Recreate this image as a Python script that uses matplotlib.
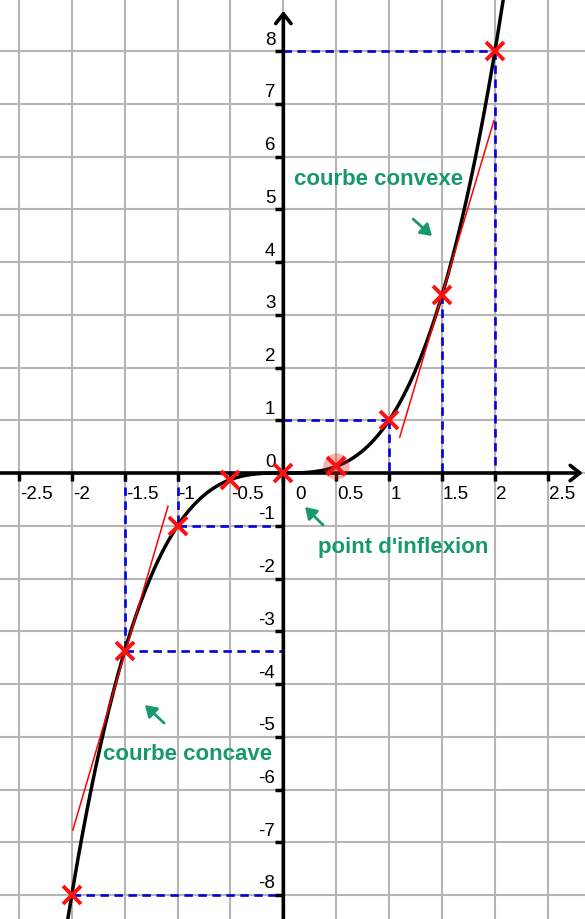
import numpy as np
import matplotlib
matplotlib.use('Agg')
import matplotlib.pyplot as plt

plt.rcParams['font.family'] = ['Liberation Sans', 'DejaVu Sans']

# Data
grid_x = [-2.5, -2, -1.5, -1, -0.5, 0, 0.5, 1, 1.5, 2, 2.5]
grid_y = [-8, -7, -6, -5, -4, -3, -2, -1, 0, 1, 2, 3, 4, 5, 6, 7, 8]
x_labels = ['-2.5', '-2', '-1.5', '-1', '-0.5', '0', '0.5', '1', '1.5', '2', '2.5']
y_labels = [str(v) for v in grid_y]

# marked points on y = x^3
pts_x = [-2, -1.5, -1, -0.5, 0, 0.5, 1, 1.5, 2]
pts_y = [-8, -3.375, -1, -0.125, 0, 0.125, 1, 3.375, 8]
infl_x = [0.5]
infl_y = [0.125]

# tangents at x = 1.5 and x = -1.5
tan_right_x = [1.10, 1.99]
tan_right_y = [0.68, 6.68]
tan_left_x = [-1.99, -1.09]
tan_left_y = [-6.77, -0.63]

# dashed projection segments (x0, x1, y0, y1)
dash_x0 = [0, 2, 0, 1, 1.5, -1.5, -1.5, -1, -1, -2]
dash_x1 = [2, 2, 1, 1, 1.5, -1.5, 0, -1, 0, 0]
dash_y0 = [8, 8, 1, 1, 3.375, 0, -3.375, 0, -1, -8]
dash_y1 = [8, 0, 1, 0, 0, -3.375, -3.375, -1, -1, -8]

# annotations
notes = ["courbe convexe", "point d'inflexion", "courbe concave"]
notes_x = [0.904, 1.136, -0.91]
notes_y = [5.574, -1.384, -5.32]
arrow_tail_x = [1.226, 0.375, -1.128]
arrow_tail_y = [4.815, -0.986, -4.739]
arrow_head_x = [1.405, 0.205, -1.308]
arrow_head_y = [4.493, -0.644, -4.398]

x_min, x_max = -2.678, 2.851
y_min, y_max = -8.455, 8.986

green = '#17996b'

fig = plt.figure(figsize=(5.85, 9.2), dpi=100)
ax = fig.add_axes([0, 0, 1, 1])
ax.set_xlim(x_min, x_max)
ax.set_ylim(y_min, y_max)
ax.axis('off')

# grid
for gx in grid_x:
    ax.axvline(gx, color='#b5b5b5', lw=1.5, zorder=1)
for gy in grid_y:
    ax.axhline(gy, color='#b5b5b5', lw=1.5, zorder=1)

# axes with arrows
arrow_style = '->,head_length=0.7,head_width=0.55'
ax.annotate('', xy=(0, 8.76), xytext=(0, y_min - 0.1),
            arrowprops=dict(arrowstyle=arrow_style, lw=2.6, color='black',
                            shrinkA=0, shrinkB=0, mutation_scale=10), zorder=3)
ax.annotate('', xy=(2.83, 0), xytext=(x_min - 0.05, 0),
            arrowprops=dict(arrowstyle=arrow_style, lw=2.6, color='black',
                            shrinkA=0, shrinkB=0, mutation_scale=10), zorder=3)

# tick marks
ax.plot(grid_x, [0] * len(grid_x), ls='none', marker=3, ms=6, mew=2.5,
        color='black', zorder=3)
ax.plot([0] * len(grid_y), grid_y, ls='none', marker=0, ms=6, mew=2.5,
        color='black', zorder=3)

# tick labels
for gx, lab in zip(grid_x, x_labels):
    dx = 12 if gx == 0 else 1
    ax.annotate(lab, xy=(gx, 0), xytext=(dx, -20), textcoords='offset pixels',
                ha='left', va='center', fontsize=13.5, color='black', zorder=4)
for gy, lab in zip(grid_y, y_labels):
    ax.annotate(lab, xy=(0, gy), xytext=(-8, 12), textcoords='offset pixels',
                ha='right', va='center', fontsize=13.5, color='black', zorder=4)

# dashed projections
for x0, x1, y0, y1 in zip(dash_x0, dash_x1, dash_y0, dash_y1):
    ax.plot([x0, x1], [y0, y1], color='#0000dd', lw=1.9,
            linestyle=(0, (3.2, 2.1)), zorder=2)

# curve y = x^3
xs = np.linspace(-2.1, 2.1, 500)
ax.plot(xs, xs ** 3, color='black', lw=2.5, zorder=5)

# tangents
ax.plot(tan_right_x, tan_right_y, color='red', lw=1.1, zorder=6)
ax.plot(tan_left_x, tan_left_y, color='red', lw=1.1, zorder=6)

# inflexion highlight and points
ax.plot(infl_x, infl_y, ls='none', marker='o', ms=19, color='#e83030',
        alpha=0.35, mew=0, zorder=6)
ax.plot(pts_x, pts_y, ls='none', marker='x', ms=13, mew=2.8, color='#ff1010',
        zorder=7)

# notes and green arrows
for txt, tx, ty in zip(notes, notes_x, notes_y):
    ax.text(tx, ty, txt, ha='center', va='center', fontsize=16,
            fontweight='bold', color=green, zorder=8)
for x0, y0, x1, y1 in zip(arrow_tail_x, arrow_tail_y, arrow_head_x, arrow_head_y):
    ax.annotate('', xy=(x1, y1), xytext=(x0, y0),
                arrowprops=dict(arrowstyle='-|>,head_length=0.55,head_width=0.35',
                                lw=2, color=green, shrinkA=0, shrinkB=0,
                                mutation_scale=12), zorder=8)

fig.savefig('out.png', dpi=100)
